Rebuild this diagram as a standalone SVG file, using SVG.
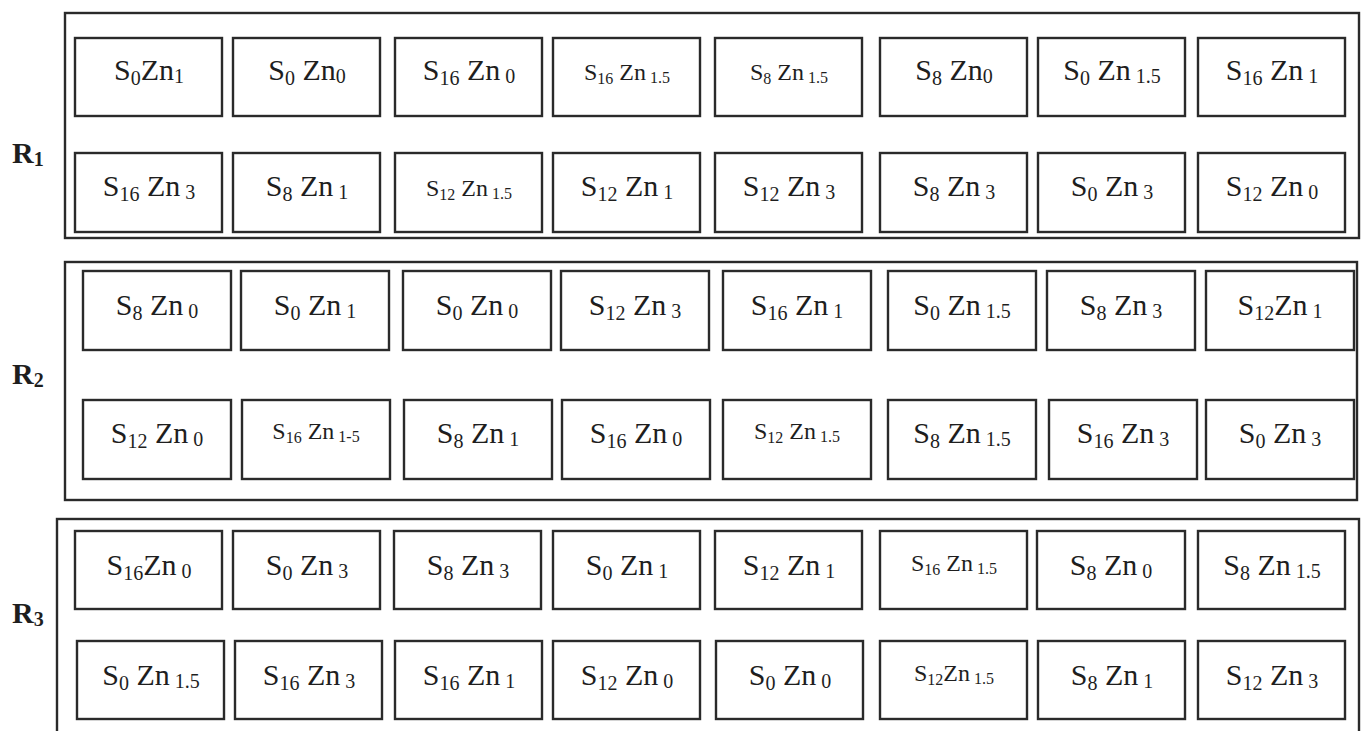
<svg xmlns="http://www.w3.org/2000/svg" width="1361" height="731" viewBox="0 0 1361 731">
<style>
.frame{fill:none;stroke:#2a2a2a;stroke-width:2.4}
.box{fill:#fff;stroke:#2a2a2a;stroke-width:2.4}
.t{font-family:"Liberation Serif","Times New Roman",serif;font-size:30px;fill:#1e1e1e;text-anchor:middle}
.t .b{font-size:20px}
.sm{font-size:24px}
.sm .b{font-size:16px}
.lab{font-family:"Liberation Serif","Times New Roman",serif;font-weight:bold;font-size:30px;fill:#1e1e1e}
.lab .b{font-size:20px}
</style>
<rect width="1361" height="731" fill="#fff"/>
<g id="R1">
<rect class="frame" x="65" y="13" width="1294" height="225"/>
<text class="lab" x="12" y="163">R<tspan class="b" dy="3">1</tspan></text>
<g id="r1a1"><rect class="box" x="75" y="38" width="147" height="78"/><text class="t" x="149" y="80">S<tspan class="b" dy="5">0</tspan><tspan dy="-5">Zn</tspan><tspan class="b" dy="3">1</tspan></text></g>
<g id="r1a2"><rect class="box" x="233" y="38" width="147" height="78"/><text class="t" x="307" y="80">S<tspan class="b" dy="5">0</tspan><tspan dy="-5"> Zn</tspan><tspan class="b" dy="3">0</tspan></text></g>
<g id="r1a3"><rect class="box" x="395" y="38" width="147" height="78"/><text class="t" x="469" y="80">S<tspan class="b" dy="5">16</tspan><tspan dy="-5"> Zn</tspan><tspan class="b" dy="3"> 0</tspan></text></g>
<g id="r1a4"><rect class="box" x="553" y="38" width="147" height="78"/><text class="t sm" x="627" y="80">S<tspan class="b" dy="4">16</tspan><tspan dy="-4"> Zn</tspan><tspan class="b" dy="3"> 1.5</tspan></text></g>
<g id="r1a5"><rect class="box" x="715" y="38" width="147" height="78"/><text class="t sm" x="789" y="80">S<tspan class="b" dy="4">8</tspan><tspan dy="-4"> Zn</tspan><tspan class="b" dy="3"> 1.5</tspan></text></g>
<g id="r1a6"><rect class="box" x="880" y="38" width="147" height="78"/><text class="t" x="954" y="80">S<tspan class="b" dy="5">8</tspan><tspan dy="-5"> Zn</tspan><tspan class="b" dy="3">0</tspan></text></g>
<g id="r1a7"><rect class="box" x="1038" y="38" width="147" height="78"/><text class="t" x="1112" y="80">S<tspan class="b" dy="5">0</tspan><tspan dy="-5"> Zn</tspan><tspan class="b" dy="3"> 1.5</tspan></text></g>
<g id="r1a8"><rect class="box" x="1198" y="38" width="147" height="78"/><text class="t" x="1272" y="80">S<tspan class="b" dy="5">16</tspan><tspan dy="-5"> Zn</tspan><tspan class="b" dy="3"> 1</tspan></text></g>
<g id="r1b1"><rect class="box" x="75" y="153" width="147" height="79"/><text class="t" x="149" y="196">S<tspan class="b" dy="5">16</tspan><tspan dy="-5"> Zn</tspan><tspan class="b" dy="3"> 3</tspan></text></g>
<g id="r1b2"><rect class="box" x="233" y="153" width="147" height="79"/><text class="t" x="307" y="196">S<tspan class="b" dy="5">8</tspan><tspan dy="-5"> Zn</tspan><tspan class="b" dy="3"> 1</tspan></text></g>
<g id="r1b3"><rect class="box" x="395" y="153" width="147" height="79"/><text class="t sm" x="469" y="196">S<tspan class="b" dy="4">12</tspan><tspan dy="-4"> Zn</tspan><tspan class="b" dy="3"> 1.5</tspan></text></g>
<g id="r1b4"><rect class="box" x="553" y="153" width="147" height="79"/><text class="t" x="627" y="196">S<tspan class="b" dy="5">12</tspan><tspan dy="-5"> Zn</tspan><tspan class="b" dy="3"> 1</tspan></text></g>
<g id="r1b5"><rect class="box" x="715" y="153" width="147" height="79"/><text class="t" x="789" y="196">S<tspan class="b" dy="5">12</tspan><tspan dy="-5"> Zn</tspan><tspan class="b" dy="3"> 3</tspan></text></g>
<g id="r1b6"><rect class="box" x="880" y="153" width="147" height="79"/><text class="t" x="954" y="196">S<tspan class="b" dy="5">8</tspan><tspan dy="-5"> Zn</tspan><tspan class="b" dy="3"> 3</tspan></text></g>
<g id="r1b7"><rect class="box" x="1038" y="153" width="147" height="79"/><text class="t" x="1112" y="196">S<tspan class="b" dy="5">0</tspan><tspan dy="-5"> Zn</tspan><tspan class="b" dy="3"> 3</tspan></text></g>
<g id="r1b8"><rect class="box" x="1198" y="153" width="147" height="79"/><text class="t" x="1272" y="196">S<tspan class="b" dy="5">12</tspan><tspan dy="-5"> Zn</tspan><tspan class="b" dy="3"> 0</tspan></text></g>
</g>
<g id="R2">
<rect class="frame" x="65" y="262" width="1292" height="238"/>
<text class="lab" x="12" y="384">R<tspan class="b" dy="3">2</tspan></text>
<g id="r2a1"><rect class="box" x="83" y="271" width="148" height="79"/><text class="t" x="157" y="315">S<tspan class="b" dy="5">8</tspan><tspan dy="-5"> Zn</tspan><tspan class="b" dy="3"> 0</tspan></text></g>
<g id="r2a2"><rect class="box" x="241" y="271" width="148" height="79"/><text class="t" x="315" y="315">S<tspan class="b" dy="5">0</tspan><tspan dy="-5"> Zn</tspan><tspan class="b" dy="3"> 1</tspan></text></g>
<g id="r2a3"><rect class="box" x="403" y="271" width="148" height="79"/><text class="t" x="477" y="315">S<tspan class="b" dy="5">0</tspan><tspan dy="-5"> Zn</tspan><tspan class="b" dy="3"> 0</tspan></text></g>
<g id="r2a4"><rect class="box" x="561" y="271" width="148" height="79"/><text class="t" x="635" y="315">S<tspan class="b" dy="5">12</tspan><tspan dy="-5"> Zn</tspan><tspan class="b" dy="3"> 3</tspan></text></g>
<g id="r2a5"><rect class="box" x="723" y="271" width="148" height="79"/><text class="t" x="797" y="315">S<tspan class="b" dy="5">16</tspan><tspan dy="-5"> Zn</tspan><tspan class="b" dy="3"> 1</tspan></text></g>
<g id="r2a6"><rect class="box" x="888" y="271" width="148" height="79"/><text class="t" x="962" y="315">S<tspan class="b" dy="5">0</tspan><tspan dy="-5"> Zn</tspan><tspan class="b" dy="3"> 1.5</tspan></text></g>
<g id="r2a7"><rect class="box" x="1047" y="271" width="148" height="79"/><text class="t" x="1121" y="315">S<tspan class="b" dy="5">8</tspan><tspan dy="-5"> Zn</tspan><tspan class="b" dy="3"> 3</tspan></text></g>
<g id="r2a8"><rect class="box" x="1206" y="271" width="148" height="79"/><text class="t" x="1280" y="315">S<tspan class="b" dy="5">12</tspan><tspan dy="-5">Zn</tspan><tspan class="b" dy="3"> 1</tspan></text></g>
<g id="r2b1"><rect class="box" x="83" y="400" width="148" height="79"/><text class="t" x="157" y="443">S<tspan class="b" dy="5">12</tspan><tspan dy="-5"> Zn</tspan><tspan class="b" dy="3"> 0</tspan></text></g>
<g id="r2b2"><rect class="box" x="242" y="400" width="148" height="79"/><text class="t sm" x="316" y="439">S<tspan class="b" dy="4">16</tspan><tspan dy="-4"> Zn</tspan><tspan class="b" dy="3"> 1-5</tspan></text></g>
<g id="r2b3"><rect class="box" x="404" y="400" width="148" height="79"/><text class="t" x="478" y="443">S<tspan class="b" dy="5">8</tspan><tspan dy="-5"> Zn</tspan><tspan class="b" dy="3"> 1</tspan></text></g>
<g id="r2b4"><rect class="box" x="562" y="400" width="148" height="79"/><text class="t" x="636" y="443">S<tspan class="b" dy="5">16</tspan><tspan dy="-5"> Zn</tspan><tspan class="b" dy="3"> 0</tspan></text></g>
<g id="r2b5"><rect class="box" x="723" y="400" width="148" height="79"/><text class="t sm" x="797" y="439">S<tspan class="b" dy="4">12</tspan><tspan dy="-4"> Zn</tspan><tspan class="b" dy="3"> 1.5</tspan></text></g>
<g id="r2b6"><rect class="box" x="888" y="400" width="148" height="79"/><text class="t" x="962" y="443">S<tspan class="b" dy="5">8</tspan><tspan dy="-5"> Zn</tspan><tspan class="b" dy="3"> 1.5</tspan></text></g>
<g id="r2b7"><rect class="box" x="1049" y="400" width="148" height="79"/><text class="t" x="1123" y="443">S<tspan class="b" dy="5">16</tspan><tspan dy="-5"> Zn</tspan><tspan class="b" dy="3"> 3</tspan></text></g>
<g id="r2b8"><rect class="box" x="1206" y="400" width="148" height="79"/><text class="t" x="1280" y="443">S<tspan class="b" dy="5">0</tspan><tspan dy="-5"> Zn</tspan><tspan class="b" dy="3"> 3</tspan></text></g>
</g>
<g id="R3">
<rect class="frame" x="57" y="519" width="1302" height="230"/>
<text class="lab" x="12" y="623">R<tspan class="b" dy="3">3</tspan></text>
<g id="r3a1"><rect class="box" x="75" y="531" width="147" height="78"/><text class="t" x="149" y="575">S<tspan class="b" dy="5">16</tspan><tspan dy="-5">Zn</tspan><tspan class="b" dy="3"> 0</tspan></text></g>
<g id="r3a2"><rect class="box" x="233" y="531" width="147" height="78"/><text class="t" x="307" y="575">S<tspan class="b" dy="5">0</tspan><tspan dy="-5"> Zn</tspan><tspan class="b" dy="3"> 3</tspan></text></g>
<g id="r3a3"><rect class="box" x="394" y="531" width="147" height="78"/><text class="t" x="468" y="575">S<tspan class="b" dy="5">8</tspan><tspan dy="-5"> Zn</tspan><tspan class="b" dy="3"> 3</tspan></text></g>
<g id="r3a4"><rect class="box" x="553" y="531" width="147" height="78"/><text class="t" x="627" y="575">S<tspan class="b" dy="5">0</tspan><tspan dy="-5"> Zn</tspan><tspan class="b" dy="3"> 1</tspan></text></g>
<g id="r3a5"><rect class="box" x="715" y="531" width="147" height="78"/><text class="t" x="789" y="575">S<tspan class="b" dy="5">12</tspan><tspan dy="-5"> Zn</tspan><tspan class="b" dy="3"> 1</tspan></text></g>
<g id="r3a6"><rect class="box" x="880" y="531" width="147" height="78"/><text class="t sm" x="954" y="571">S<tspan class="b" dy="4">16</tspan><tspan dy="-4"> Zn</tspan><tspan class="b" dy="3"> 1.5</tspan></text></g>
<g id="r3a7"><rect class="box" x="1037" y="531" width="148" height="78"/><text class="t" x="1111" y="575">S<tspan class="b" dy="5">8</tspan><tspan dy="-5"> Zn</tspan><tspan class="b" dy="3"> 0</tspan></text></g>
<g id="r3a8"><rect class="box" x="1198" y="531" width="147" height="78"/><text class="t" x="1272" y="575">S<tspan class="b" dy="5">8</tspan><tspan dy="-5"> Zn</tspan><tspan class="b" dy="3"> 1.5</tspan></text></g>
<g id="r3b1"><rect class="box" x="77" y="641" width="147" height="78"/><text class="t" x="151" y="685">S<tspan class="b" dy="5">0</tspan><tspan dy="-5"> Zn</tspan><tspan class="b" dy="3"> 1.5</tspan></text></g>
<g id="r3b2"><rect class="box" x="235" y="641" width="147" height="78"/><text class="t" x="309" y="685">S<tspan class="b" dy="5">16</tspan><tspan dy="-5"> Zn</tspan><tspan class="b" dy="3"> 3</tspan></text></g>
<g id="r3b3"><rect class="box" x="395" y="641" width="147" height="78"/><text class="t" x="469" y="685">S<tspan class="b" dy="5">16</tspan><tspan dy="-5"> Zn</tspan><tspan class="b" dy="3"> 1</tspan></text></g>
<g id="r3b4"><rect class="box" x="553" y="641" width="147" height="78"/><text class="t" x="627" y="685">S<tspan class="b" dy="5">12</tspan><tspan dy="-5"> Zn</tspan><tspan class="b" dy="3"> 0</tspan></text></g>
<g id="r3b5"><rect class="box" x="716" y="641" width="147" height="78"/><text class="t" x="790" y="685">S<tspan class="b" dy="5">0</tspan><tspan dy="-5"> Zn</tspan><tspan class="b" dy="3"> 0</tspan></text></g>
<g id="r3b6"><rect class="box" x="880" y="641" width="147" height="78"/><text class="t sm" x="954" y="681">S<tspan class="b" dy="4">12</tspan><tspan dy="-4">Zn</tspan><tspan class="b" dy="3"> 1.5</tspan></text></g>
<g id="r3b7"><rect class="box" x="1038" y="641" width="147" height="78"/><text class="t" x="1112" y="685">S<tspan class="b" dy="5">8</tspan><tspan dy="-5"> Zn</tspan><tspan class="b" dy="3"> 1</tspan></text></g>
<g id="r3b8"><rect class="box" x="1198" y="641" width="147" height="78"/><text class="t" x="1272" y="685">S<tspan class="b" dy="5">12</tspan><tspan dy="-5"> Zn</tspan><tspan class="b" dy="3"> 3</tspan></text></g>
</g>
</svg>
